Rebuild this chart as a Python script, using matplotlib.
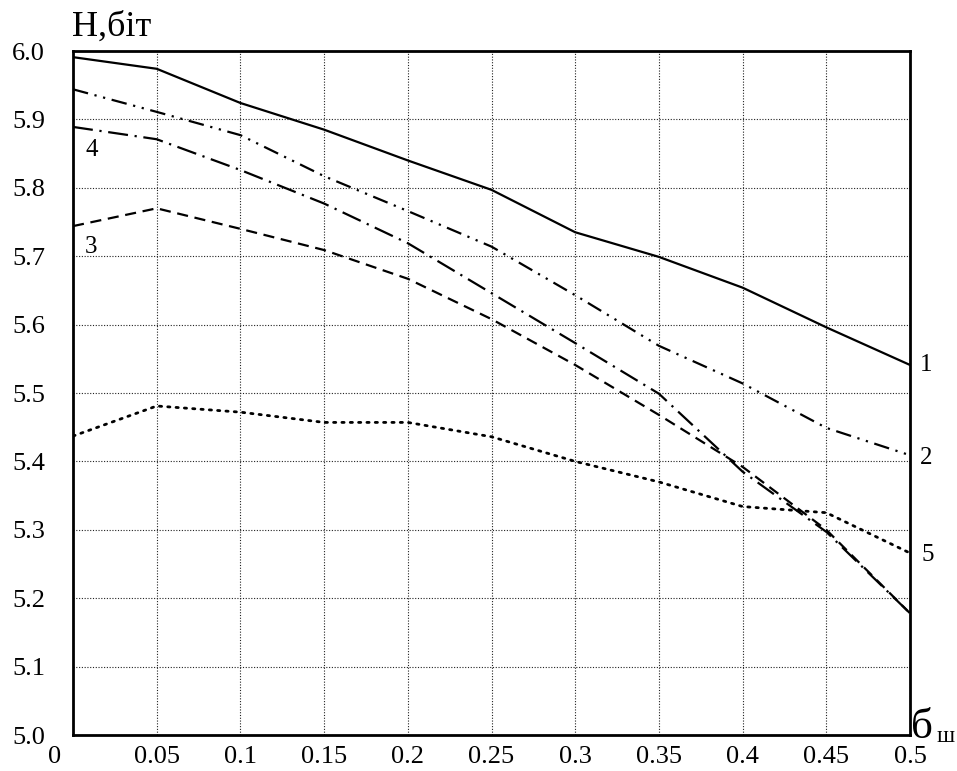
import matplotlib
matplotlib.use("Agg")
import matplotlib.pyplot as plt
from matplotlib.transforms import ScaledTranslation

plt.rcParams['font.family'] = ['Liberation Serif', 'DejaVu Serif']

# noise level (sigma_ш) and entropy H (bits) for five cases
sigma = [0.0, 0.05, 0.1, 0.15, 0.2, 0.25, 0.3, 0.35, 0.4, 0.45, 0.5]
H1 = [5.991, 5.974, 5.924, 5.885, 5.840, 5.797, 5.735, 5.699, 5.654, 5.596, 5.541]
H2 = [5.944, 5.911, 5.877, 5.817, 5.766, 5.714, 5.643, 5.569, 5.514, 5.449, 5.409]
H3 = [5.744, 5.770, 5.740, 5.709, 5.667, 5.608, 5.541, 5.468, 5.392, 5.300, 5.178]
H4 = [5.889, 5.871, 5.826, 5.777, 5.719, 5.646, 5.573, 5.499, 5.385, 5.297, 5.178]
H5 = [5.437, 5.481, 5.472, 5.457, 5.457, 5.436, 5.400, 5.370, 5.334, 5.325, 5.266]

x_ticks = [0, 0.05, 0.1, 0.15, 0.2, 0.25, 0.3, 0.35, 0.4, 0.45, 0.5]
x_tick_labels = ['0', '0.05', '0.1', '0.15', '0.2', '0.25', '0.3', '0.35', '0.4', '0.45', '0.5']
y_ticks = [5.0, 5.1, 5.2, 5.3, 5.4, 5.5, 5.6, 5.7, 5.8, 5.9, 6.0]
y_tick_labels = ['5.0', '5.1', '5.2', '5.3', '5.4', '5.5', '5.6', '5.7', '5.8', '5.9', '6.0']

fig = plt.figure(figsize=(9.57, 7.71), dpi=100)
ax = fig.add_axes([73 / 957, 1 - 735 / 771, (910 - 73) / 957, (735 - 51) / 771])

lw = 1.6
ax.plot(sigma, H1, color='black', lw=lw, linestyle='-')
ax.plot(sigma, H2, color='black', lw=lw, linestyle=(0, (7, 3, 1, 3, 1, 3)))
ax.plot(sigma, H3, color='black', lw=lw, linestyle=(0, (5, 3)))
ax.plot(sigma, H4, color='black', lw=lw, linestyle=(0, (9, 3, 1, 3)))
ax.plot(sigma, H5, color='black', lw=2.0, linestyle=(0, (0.8, 2.2)), dash_capstyle='round')

ax.set_xlim(0, 0.5)
ax.set_ylim(5.0, 6.0)
ax.set_xticks(x_ticks)
ax.set_xticklabels(x_tick_labels)
ax.set_yticks(y_ticks)
ax.set_yticklabels(y_tick_labels)
ax.tick_params(length=0, labelsize=19, pad=8)
ax.tick_params(axis='y', pad=20)

# the zero label sits to the left of the origin
first = ax.get_xticklabels()[0]
first.set_transform(first.get_transform() + ScaledTranslation(-18 / 100, 0, fig.dpi_scale_trans))

ax.grid(True, color='#222222', lw=0.8, linestyle=(0, (1, 1.5)))
for s in ax.spines.values():
    s.set_linewidth(2.0)
    s.set_color('black')

# axis captions
fig.text(72 / 957, 1 - 27 / 771, 'Н,біт', fontsize=26, ha='left', va='center')
fig.text(911 / 957, 1 - 728 / 771, 'б', fontsize=31, ha='left', va='center')
fig.text(937 / 957, 1 - 737 / 771, 'ш', fontsize=17, ha='left', va='center')

# curve numbers
fig.text(926 / 957, 1 - 365 / 771, '1', fontsize=18, ha='center', va='center')
fig.text(926 / 957, 1 - 458 / 771, '2', fontsize=18, ha='center', va='center')
fig.text(928 / 957, 1 - 555 / 771, '5', fontsize=18, ha='center', va='center')
fig.text(92 / 957, 1 - 150 / 771, '4', fontsize=18, ha='center', va='center')
fig.text(91 / 957, 1 - 247 / 771, '3', fontsize=18, ha='center', va='center')

fig.savefig('out.png', dpi=100)
